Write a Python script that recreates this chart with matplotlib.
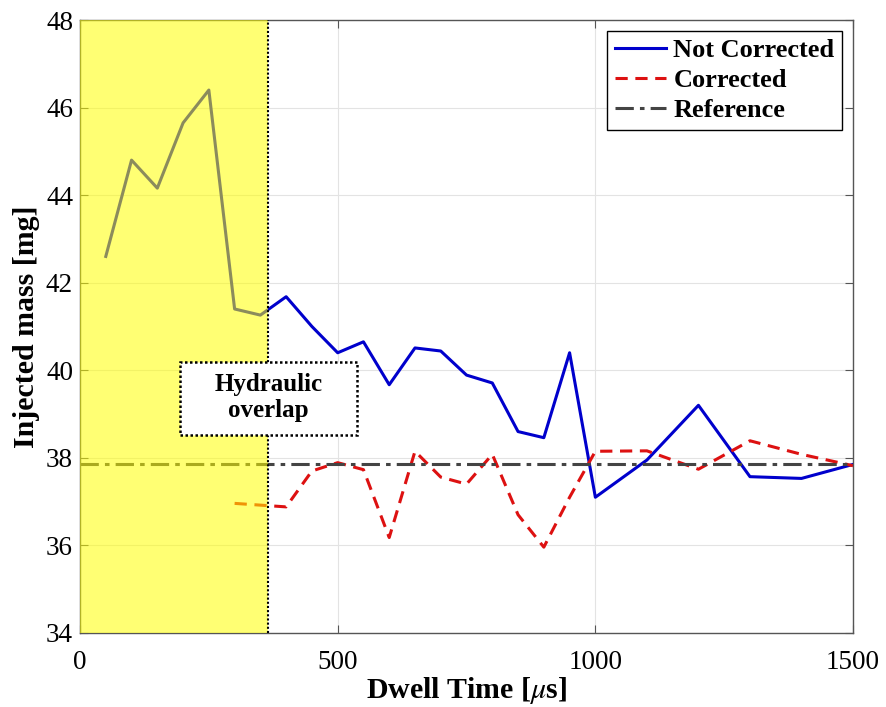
import matplotlib
matplotlib.use("Agg")
import matplotlib.pyplot as plt
from matplotlib.patches import Rectangle
import numpy as np

# dwell time [us] and injected mass [mg]
dwell_nc = [50, 100, 150, 200, 250, 300, 350, 400, 450, 500, 550, 600, 650, 700, 750,
            800, 850, 900, 950, 1000, 1100, 1200, 1300, 1400, 1500]
mass_nc = [42.6, 44.8, 44.16, 45.65, 46.4, 41.4, 41.26, 41.68, 41.0, 40.4, 40.65, 39.67,
           40.51, 40.44, 39.89, 39.71, 38.6, 38.46, 40.4, 37.1, 37.95, 39.2, 37.57, 37.53, 37.85]

dwell_c = [300, 350, 400, 450, 500, 550, 600, 650, 700, 750, 800, 850, 900, 950, 1000,
           1100, 1200, 1300, 1400, 1500]
mass_c = [36.96, 36.92, 36.88, 37.7, 37.89, 37.73, 36.18, 38.15, 37.56, 37.4, 38.08, 36.7,
          35.96, 37.1, 38.15, 38.16, 37.74, 38.39, 38.08, 37.82]

ref_mass = 37.86
overlap_end = 365

plt.rcParams['font.family'] = ['Liberation Serif', 'DejaVu Serif']
plt.rcParams['mathtext.fontset'] = 'stix'

fig = plt.figure(figsize=(8.86, 7.07), dpi=100)
ax = fig.add_axes([0.0903, 0.1047, 0.8725, 0.867])

ax.plot(dwell_nc, mass_nc, '-', color='#0000cc', lw=2.2, label='Not Corrected')
ax.plot(dwell_c, mass_c, '--', color='#dd1111', lw=2.2, dashes=(4, 2.5), label='Corrected')
ax.axhline(ref_mass, color='#444444', lw=2.2, dashes=(6, 2, 1.5, 2), label='Reference')

# hydraulic overlap zone drawn over the lines
ax.axvspan(0, overlap_end, color='#ffff00', alpha=0.55, lw=0, zorder=5)
ax.axvline(overlap_end, color='black', lw=1.5, ls=(0, (1, 1)), zorder=6)

# annotation box (dotted frame), centred on the overlap limit
ax.add_patch(Rectangle((194, 38.53), 344, 1.66, fc='white', ec='black', ls=(0, (1, 1)),
                       lw=1.8, zorder=7))
ax.text(366, 39.38, 'Hydraulic\noverlap', ha='center', va='center', fontsize=18,
        fontweight='bold', zorder=8, linespacing=1.15)

ax.set_xlim(0, 1500)
ax.set_ylim(34, 48)
ax.set_xticks([0, 500, 1000, 1500])
ax.set_yticks(np.arange(34, 49, 2))
ax.grid(True, color='#e3e3e3', lw=0.8)
ax.set_axisbelow(True)
ax.tick_params(direction='in', top=True, right=True, labelsize=19.5, length=6,
               color='#555555', pad=5)
ax.tick_params(axis='x', pad=12)
for s in ax.spines.values():
    s.set_color('#555555')
    s.set_linewidth(1.0)

ax.set_xlabel(r'Dwell Time [$\mu$s]', fontsize=21.5, fontweight='bold', labelpad=0)
ax.set_ylabel('Injected mass [mg]', fontsize=21.5, fontweight='bold', labelpad=4)

leg = ax.legend(loc='upper right', prop={'weight': 'bold', 'size': 19},
                fancybox=False, edgecolor='black', framealpha=1, handlelength=1.9,
                borderaxespad=0.4, borderpad=0.3, labelspacing=0.25, handletextpad=0.3)
leg.get_frame().set_linewidth(1.0)
leg.set_zorder(10)

fig.savefig('out.png', dpi=100)
